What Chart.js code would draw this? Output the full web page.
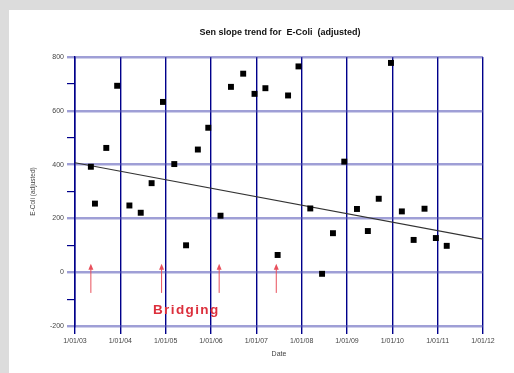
<!DOCTYPE html>
<html>
<head>
<meta charset="utf-8">
<script src="https://cdn.jsdelivr.net/npm/chart.js@4.4.1/dist/chart.umd.min.js"></script>
<style>
  html, body { margin: 0; padding: 0; background: #dcdcdc; }
  #panel { position: absolute; left: 9px; top: 10px; width: 505px; height: 363px; background: #fff; }
</style>
</head>
<body>
<div id="panel"><canvas id="chart" width="505" height="363"></canvas></div>
<script>
// Muestras E-Coli (fecha en años decimales, valor ajustado)
const sampleDates = [2003.35, 2003.44, 2003.69, 2003.93, 2004.20, 2004.45, 2004.69, 2004.94, 2005.19, 2005.45,
  2005.71, 2005.94, 2006.21, 2006.44, 2006.71, 2006.96, 2007.20, 2007.47, 2007.70, 2007.93,
  2008.19, 2008.45, 2008.69, 2008.94, 2009.22, 2009.46, 2009.70, 2009.97, 2010.21, 2010.47,
  2010.71, 2010.96, 2011.20];
const sampleValues = [392, 255, 462, 693, 248, 221, 331, 633, 402, 100,
  456, 537, 210, 689, 738, 663, 684, 64, 657, 765,
  237, -6, 145, 411, 235, 153, 273, 778, 226, 120,
  236, 127, 98];

// Tendencia Sen
const trendDates = [2003, 2012];
const trendValues = [407, 123];

// Flechas "Bridging"
const arrowDates = [2003.35, 2004.91, 2006.18, 2007.44];
const arrowFrom = -77;
const arrowTo = 31;

const yearTicks = [2003, 2004, 2005, 2006, 2007, 2008, 2009, 2010, 2011, 2012];

const font = "'Liberation Sans', Arial, sans-serif";
const navy = "#00008b";
const hGrid = "rgba(80,80,180,0.55)";

const extras = {
  id: "extras",
  afterDatasetsDraw(chart) {
    const { ctx, chartArea, scales } = chart;
    const x = scales.x, y = scales.y;
    ctx.save();
    // flechas
    ctx.strokeStyle = "#e8505c";
    ctx.fillStyle = "#e8505c";
    ctx.lineWidth = 1;
    arrowDates.forEach(d => {
      const px = x.getPixelForValue(d);
      const y0 = y.getPixelForValue(arrowFrom);
      const y1 = y.getPixelForValue(arrowTo);
      ctx.beginPath();
      ctx.moveTo(px, y0);
      ctx.lineTo(px, y1 + 5);
      ctx.stroke();
      ctx.beginPath();
      ctx.moveTo(px, y1);
      ctx.lineTo(px - 2.5, y1 + 6);
      ctx.lineTo(px + 2.5, y1 + 6);
      ctx.closePath();
      ctx.fill();
    });
    ctx.fillStyle = "#dc2f3c";
    ctx.font = "bold 13.5px " + font;
    ctx.textBaseline = "middle";
    ctx.textAlign = "left";
    if ("letterSpacing" in ctx) ctx.letterSpacing = "1.4px";
    ctx.fillText("Bridging", x.getPixelForValue(2004.72), y.getPixelForValue(-140));
    if ("letterSpacing" in ctx) ctx.letterSpacing = "0px";
    // titulo
    ctx.fillStyle = "#111";
    ctx.font = "bold 9px " + font;
    ctx.textAlign = "center";
    ctx.fillText("Sen slope trend for  E-Coli  (adjusted)", (chartArea.left + chartArea.right) / 2 + 1, 23);
    ctx.restore();
  }
};

new Chart(document.getElementById("chart"), {
  type: "scatter",
  data: {
    datasets: [{
      label: "E-Coli",
      data: sampleDates.map((d, i) => ({ x: d, y: sampleValues[i] })),
      pointStyle: "rect",
      radius: 4.2,
      backgroundColor: "#000",
      borderWidth: 0
    }, {
      type: "line",
      label: "Sen slope",
      data: trendDates.map((d, i) => ({ x: d, y: trendValues[i] })),
      borderColor: "#333",
      borderWidth: 1.2,
      pointRadius: 0
    }]
  },
  options: {
    responsive: false,
    animation: false,
    layout: { padding: { top: 47, right: 31, left: 0, bottom: 0 } },
    plugins: {
      legend: { display: false },
      tooltip: { enabled: false }
    },
    scales: {
      x: {
        type: "linear",
        min: 2003,
        max: 2012,
        afterBuildTicks: s => { s.ticks = yearTicks.map(v => ({ value: v })); },
        afterFit: s => { s.height = 47; },
        ticks: {
          callback: v => "1/01/" + String(v - 2000).padStart(2, "0"),
          font: { family: font, size: 7 },
          color: "#444",
          padding: 3,
          maxRotation: 0
        },
        grid: { color: navy, lineWidth: 1.4, tickLength: 8 },
        border: { display: false },
        title: {
          display: true,
          text: "Date",
          font: { family: font, size: 7 },
          color: "#444",
          padding: { top: 0, bottom: 14.8 }
        }
      },
      y: {
        min: -200,
        max: 800,
        afterFit: s => { s.width = 66; },
        ticks: {
          stepSize: 100,
          callback: v => (v % 200 === 0 ? v : ""),
          font: { family: font, size: 7 },
          color: "#444",
          padding: 3
        },
        grid: {
          color: c => (c.tick && c.tick.value % 200 === 0 ? hGrid : "rgba(0,0,0,0)"),
          tickColor: c => (c.tick && c.tick.value % 200 === 0 ? hGrid : navy),
          lineWidth: c => (c.tick && c.tick.value % 200 === 0 ? 2.4 : 1.2),
          tickLength: 8
        },
        border: { color: navy, width: 1.5 },
        title: {
          display: true,
          text: "E-Coli (adjusted)",
          font: { family: font, size: 6.5 },
          color: "#444",
          padding: { top: 20, bottom: 0 }
        }
      }
    }
  },
  plugins: [extras]
});
</script>
</body>
</html>
